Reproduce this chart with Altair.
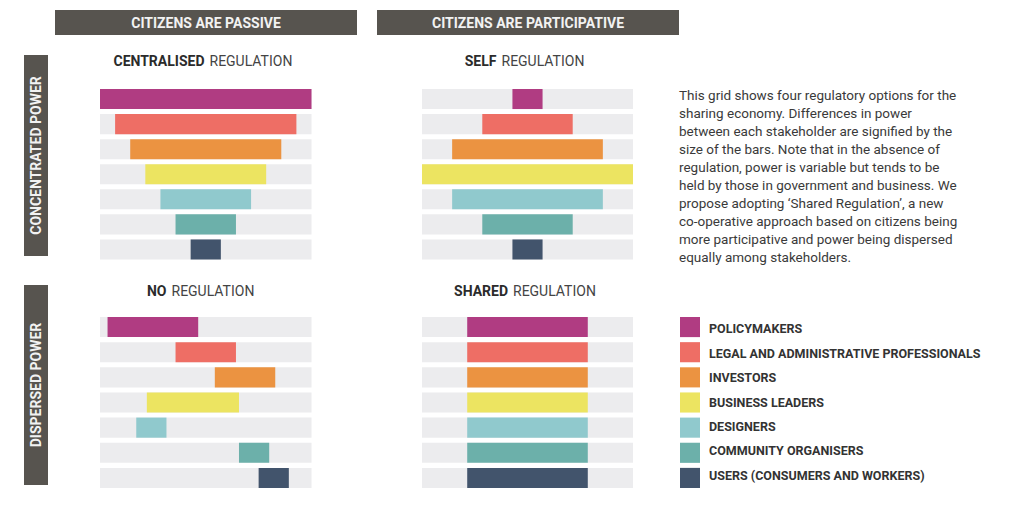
import altair as alt
import pandas as pd

# ---------------- data ----------------
categories = [
    "POLICYMAKERS",
    "LEGAL AND ADMINISTRATIVE PROFESSIONALS",
    "INVESTORS",
    "BUSINESS LEADERS",
    "DESIGNERS",
    "COMMUNITY ORGANISERS",
    "USERS (CONSUMERS AND WORKERS)",
]
colors = ["#b03c82", "#ee6e65", "#eb9341", "#ece461", "#90c9cd", "#6cb0aa", "#42546c"]

scale_max = 14

centralised_start = [0, 1, 2, 3, 4, 5, 6]
centralised_end = [14, 13, 12, 11, 10, 9, 8]
self_start = [6, 4, 2, 0, 2, 4, 6]
self_end = [8, 10, 12, 14, 12, 10, 8]
no_start = [0.5, 5.0, 7.6, 3.1, 2.4, 9.2, 10.5]
no_end = [6.5, 9.0, 11.6, 9.2, 4.4, 11.2, 12.5]
shared_start = [3, 3, 3, 3, 3, 3, 3]
shared_end = [11, 11, 11, 11, 11, 11, 11]

column_headers = ["CITIZENS ARE PASSIVE", "CITIZENS ARE PARTICIPATIVE"]
row_headers = ["CONCENTRATED POWER", "DISPERSED POWER"]
title_bold = ["CENTRALISED", "SELF", "NO", "SHARED"]
title_light = "REGULATION"

description = [
    "This grid shows four regulatory options for the",
    "sharing economy. Differences in power",
    "between each stakeholder are signified by the",
    "size of the bars. Note that in the absence of",
    "regulation, power is variable but tends to be",
    "held by those in government and business. We",
    "propose adopting ‘Shared Regulation’, a new",
    "co-operative approach based on citizens being",
    "more participative and power being dispersed",
    "equally among stakeholders.",
]

# ---------------- styling / layout ----------------
FONT = "Roboto"
BOX = "#57544f"
TRACK = "#ececee"
one = alt.Data(values=[{"k": 1}])

layers = []

color_scale = alt.Scale(domain=categories, range=colors)


def band(yr):
    return alt.Scale(domain=categories, range=yr, paddingInner=0.2, paddingOuter=0)


def panel(start, end, xr, yr):
    df = pd.DataFrame({"stakeholder": categories, "start": start, "end": end})
    xs = alt.Scale(domain=[0, scale_max], range=xr)
    track = (
        alt.Chart(df)
        .transform_calculate(lo="0", hi=str(scale_max))
        .mark_bar(color=TRACK)
        .encode(
            x=alt.X("lo:Q", scale=xs, axis=None),
            x2="hi:Q",
            y=alt.Y("stakeholder:N", scale=band(yr), axis=None),
        )
    )
    bars = (
        alt.Chart(df)
        .mark_bar()
        .encode(
            x=alt.X("start:Q", scale=xs, axis=None),
            x2="end:Q",
            y=alt.Y("stakeholder:N", scale=band(yr), axis=None),
            color=alt.Color("stakeholder:N", scale=color_scale, legend=None),
            tooltip=["stakeholder", "start", "end"],
        )
    )
    return [track, bars]


LEFT = [92, 303.5]
RIGHT = [414, 625]
TOP = [81, 251.5]
BOTTOM = [309, 480]

layers += panel(centralised_start, centralised_end, LEFT, TOP)
layers += panel(self_start, self_end, RIGHT, TOP)
layers += panel(no_start, no_end, LEFT, BOTTOM)
layers += panel(shared_start, shared_end, RIGHT, BOTTOM)

# column header boxes
for (x0, x1), txt in zip([(47, 349), (369, 671)], column_headers):
    layers.append(
        alt.Chart(one).mark_rect(color=BOX).encode(
            x=alt.value(x0), x2=alt.value(x1), y=alt.value(2), y2=alt.value(27)
        )
    )
    layers.append(
        alt.Chart(one)
        .mark_text(font=FONT, fontSize=14, fontWeight="bold", color="#f2f2f2",
                   align="center", baseline="middle")
        .encode(x=alt.value((x0 + x1) / 2), y=alt.value(15.5), text=alt.value(txt))
    )

# row header boxes
for (y0, y1), txt in zip([(47, 248), (277, 477)], row_headers):
    layers.append(
        alt.Chart(one).mark_rect(color=BOX).encode(
            x=alt.value(16), x2=alt.value(40), y=alt.value(y0), y2=alt.value(y1)
        )
    )
    layers.append(
        alt.Chart(one)
        .mark_text(font=FONT, fontSize=14, fontWeight="bold", color="#f2f2f2",
                   align="center", baseline="middle", angle=270)
        .encode(x=alt.value(28.5), y=alt.value((y0 + y1) / 2), text=alt.value(txt))
    )

# panel titles (bold word + light "REGULATION")
title_pos = [(198.5, 54), (490.5, 54), (160.5, 284), (502, 284)]
for (xj, yc), bold in zip(title_pos, title_bold):
    layers.append(
        alt.Chart(one)
        .mark_text(font=FONT, fontSize=14, fontWeight="bold", color="#2b2b2b",
                   align="right", baseline="middle")
        .encode(x=alt.value(xj - 2), y=alt.value(yc), text=alt.value(bold))
    )
    layers.append(
        alt.Chart(one)
        .mark_text(font=FONT, fontSize=14, fontWeight="normal", color="#444444",
                   align="left", baseline="middle")
        .encode(x=alt.value(xj + 3), y=alt.value(yc), text=alt.value(title_light))
    )

# description
layers.append(
    alt.Chart(one)
    .mark_text(font=FONT, fontSize=13.5, color="#3a3a3a", align="left",
               baseline="top", lineHeight=18)
    .encode(x=alt.value(671), y=alt.value(81), text=alt.value(description))
)

# legend built from the categories
leg_df = pd.DataFrame({"stakeholder": categories})
layers.append(
    alt.Chart(leg_df)
    .mark_bar()
    .encode(
        x=alt.value(672),
        x2=alt.value(692),
        y=alt.Y("stakeholder:N", scale=band(BOTTOM), axis=None),
        color=alt.Color("stakeholder:N", scale=color_scale, legend=None),
    )
)
layers.append(
    alt.Chart(leg_df)
    .mark_text(font=FONT, fontSize=12.5, fontWeight="bold", color="#333333",
               align="left", baseline="middle")
    .encode(
        x=alt.value(701),
        y=alt.Y("stakeholder:N", scale=band(BOTTOM), axis=None),
        text="stakeholder:N",
    )
)

chart = (
    alt.layer(*layers)
    .resolve_scale(x="independent", y="independent", color="independent")
    .properties(width=1013, height=494, padding=0,
                autosize=alt.AutoSizeParams(type="none"), background="white")
    .configure_view(stroke=None)
)

chart.save("out.html", embed_options={"renderer": "svg", "actions": False})
